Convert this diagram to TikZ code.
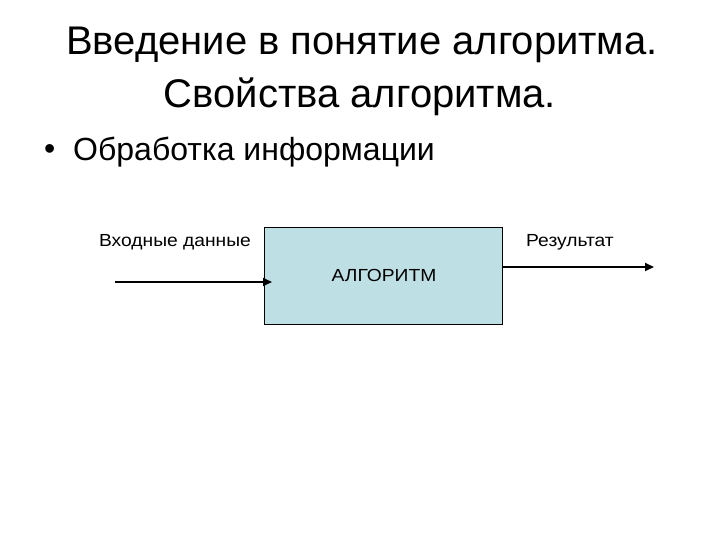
\documentclass[tikz,border=0pt]{standalone}
\usepackage{fontspec}
\setmainfont{Liberation Sans}
\newfontfamily\widefont[FakeStretch=1.1]{Liberation Sans}
\usetikzlibrary{arrows.meta}
\definecolor{boxfill}{RGB}{190,224,228}
\begin{document}
\begin{tikzpicture}[x=1pt,y=-1pt,
  title/.style={font=\fontsize{40}{48}\selectfont, align=center, inner sep=0pt},
  bodytext/.style={font=\fontsize{32}{38}\selectfont, anchor=west, inner sep=0pt},
  small/.style={font=\widefont\fontsize{17.5}{21}\selectfont, inner sep=0pt},
  algbox/.style={draw=black, fill=boxfill, line width=0.8pt},
  flow/.style={line width=1.8pt, -{Triangle[length=9pt,width=8pt]}}]
\useasboundingbox[fill=white] (0,0) rectangle (720,540);
\node[title] (t1) at (362,45) {Введение в понятие алгоритма.};
\node[title] (t2) at (360,97) {Свойства алгоритма.};
\node[bodytext] (bul) at (44,152) {•};
\node[bodytext] (b1) at (73,152) {Обработка информации};
\node[algbox, minimum width=238pt, minimum height=97pt, inner sep=0pt] (alg) at (383,275.5) {};
\node[small] (alglabel) at (384,275) {АЛГОРИТМ};
\node[small] (in) at (175,242) {Входные данные};
\node[small] (out) at (570,242) {Результат};
\coordinate (inS) at (115,282);
\coordinate (inE) at (272,282);
\coordinate (outE) at (654,267);
\draw[flow] (inS) -- (inE);
\draw[flow] (alg.east |- outE) -- (outE);
\end{tikzpicture}
\end{document}
